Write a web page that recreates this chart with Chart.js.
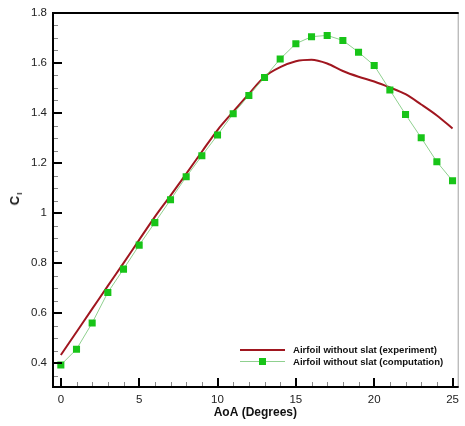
<!DOCTYPE html>
<html>
<head>
<meta charset="utf-8">
<script src="https://cdn.jsdelivr.net/npm/chart.js@4.4.1/dist/chart.umd.min.js"></script>
<style>
  html, body { margin: 0; padding: 0; background: #fff; }
  #wrap { position: relative; width: 465px; height: 426px; font-family: "Liberation Sans", Arial, sans-serif; }
  #c { position: absolute; left: 0; top: 0; }
  .lg-text { position: absolute; font-weight: bold; font-size: 9.6px; line-height: 12px; color: #111; white-space: nowrap; }
  .lg-line { position: absolute; }
  #ytitle { position: absolute; left: 16px; top: 198.5px; transform: translate(-50%, -50%) rotate(-90deg);
            font-weight: bold; font-size: 13px; line-height: 14px; color: #111; white-space: nowrap; }
  #ytitle span { font-size: 8px; position: relative; top: 3px; margin-left: 1px; }
</style>
</head>
<body>
<div id="wrap">
  <canvas id="c" width="465" height="426"></canvas>
  <div id="ytitle">C<span>l</span></div>
  <div class="lg-line" style="left:240px; top:349px; width:45px; height:2px; background:#a0161f;"></div>
  <div class="lg-text" style="left:293px; top:344px;">Airfoil without slat (experiment)</div>
  <div class="lg-line" style="left:240px; top:361px; width:45px; height:1px; background:#8fd08f;"></div>
  <div class="lg-line" style="left:259px; top:358px; width:7px; height:7px; background:#18c418;"></div>
  <div class="lg-text" style="left:293px; top:355.5px;">Airfoil without slat (computation)</div>
</div>
<script>
// ---- data ----
const expAoA = [0,1,2,3,4,5,6,7,8,9,10,11,12,13,14,15,16,17,18,19,20,21,22,23,24,25];
const expCl  = [0.433,0.525,0.617,0.709,0.800,0.893,0.985,1.070,1.157,1.245,1.332,1.405,1.476,1.545,1.583,1.607,1.613,1.598,1.568,1.545,1.526,1.502,1.475,1.434,1.390,1.338];
const compAoA = [0,1,2,3,4,5,6,7,8,9,10,11,12,13,14,15,16,17,18,19,20,21,22,23,24,25];
const compCl  = [0.393,0.456,0.561,0.683,0.776,0.872,0.962,1.053,1.145,1.229,1.312,1.397,1.470,1.542,1.616,1.677,1.705,1.710,1.690,1.643,1.590,1.492,1.394,1.301,1.205,1.129];
const xTickVals = [0,5,10,15,20,25];
const xTickLabels = ['0','5','10','15','20','25'];
const yTickVals = [0.4,0.6,0.8,1.0,1.2,1.4,1.6,1.8];
const yTickLabels = ['0.4','0.6','0.8','1','1.2','1.4','1.6','1.8'];
const seriesNames = ['Airfoil without slat (experiment)','Airfoil without slat (computation)'];

const FONT = '"Liberation Sans", Arial, sans-serif';

const axesPlugin = {
  id: 'tecplotAxes',
  afterDatasetsDraw(chart) {
    const {ctx, chartArea: a, scales: {x, y}} = chart;
    ctx.save();
    // minor ticks
    ctx.strokeStyle = '#8a8a8a';
    ctx.lineWidth = 1;
    ctx.beginPath();
    for (let v = Math.ceil(x.min); v <= x.max; v++) {
      if (v % 5 === 0) continue;
      const px = Math.round(x.getPixelForValue(v)) + 0.5;
      ctx.moveTo(px, a.bottom); ctx.lineTo(px, a.bottom - 5);
    }
    for (let k = Math.ceil(y.min / 0.05); k * 0.05 <= y.max + 1e-9; k++) {
      if (k % 4 === 0) continue;
      const py = Math.round(y.getPixelForValue(k * 0.05)) + 0.5;
      ctx.moveTo(a.left, py); ctx.lineTo(a.left + 5, py);
    }
    ctx.stroke();
    // major ticks
    ctx.strokeStyle = '#000';
    ctx.lineWidth = 2;
    ctx.beginPath();
    x.ticks.forEach(t => {
      const px = Math.round(x.getPixelForValue(t.value));
      ctx.moveTo(px, a.bottom); ctx.lineTo(px, a.bottom - 9);
    });
    y.ticks.forEach(t => {
      const py = Math.round(y.getPixelForValue(t.value));
      ctx.moveTo(a.left, py); ctx.lineTo(a.left + 9, py);
    });
    ctx.stroke();
    // frame
    ctx.strokeStyle = '#a0a0a0';
    ctx.lineWidth = 1;
    ctx.beginPath();
    ctx.moveTo(a.right + 0.5, a.top); ctx.lineTo(a.right + 0.5, a.bottom);
    ctx.stroke();
    ctx.strokeStyle = '#000';
    ctx.lineWidth = 2;
    ctx.beginPath();
    ctx.moveTo(a.left, a.top); ctx.lineTo(a.right + 1, a.top);
    ctx.moveTo(a.left, a.top - 1); ctx.lineTo(a.left, a.bottom + 1);
    ctx.moveTo(a.left - 1, a.bottom); ctx.lineTo(a.right + 1, a.bottom);
    ctx.stroke();
    ctx.restore();
  }
};

new Chart(document.getElementById('c'), {
  type: 'line',
  data: {
    datasets: [
      {
        label: seriesNames[1],
        data: compAoA.map((v, i) => ({x: v, y: compCl[i]})),
        borderColor: '#8fd08f',
        borderWidth: 1,
        pointStyle: 'rect',
        pointRadius: 5,
        pointBackgroundColor: '#18c418',
        pointBorderWidth: 0,
        tension: 0
      },
      {
        label: seriesNames[0],
        data: expAoA.map((v, i) => ({x: v, y: expCl[i]})),
        borderColor: '#a0161f',
        borderWidth: 2,
        pointRadius: 0,
        cubicInterpolationMode: 'monotone'
      }
    ]
  },
  options: {
    responsive: false,
    animation: false,
    devicePixelRatio: 1,
    layout: { padding: { top: 11, right: 2, bottom: 0, left: 0 } },
    plugins: { legend: { display: false }, tooltip: { enabled: false } },
    scales: {
      x: {
        type: 'linear',
        min: -0.5,
        max: 25.33,
        afterFit: s => { s.height = 39; },
        afterBuildTicks: s => { s.ticks = xTickVals.map(v => ({value: v})); },
        grid: { display: false, drawTicks: false },
        border: { display: false },
        ticks: {
          padding: 6,
          color: '#222',
          font: { family: FONT, size: 11.5 },
          callback: (v, i) => xTickLabels[i]
        },
        title: {
          display: true,
          text: 'AoA (Degrees)',
          color: '#111',
          font: { family: FONT, size: 12, weight: 'bold' },
          padding: { top: 0, bottom: 6 }
        }
      },
      y: {
        type: 'linear',
        min: 0.305,
        max: 1.8,
        afterFit: s => { s.width = 53; },
        afterBuildTicks: s => { s.ticks = yTickVals.map(v => ({value: v})); },
        grid: { display: false, drawTicks: false },
        border: { display: false },
        ticks: {
          padding: 6,
          color: '#222',
          font: { family: FONT, size: 11.5 },
          callback: (v, i) => yTickLabels[i]
        }
      }
    }
  },
  plugins: [axesPlugin]
});
</script>
</body>
</html>
